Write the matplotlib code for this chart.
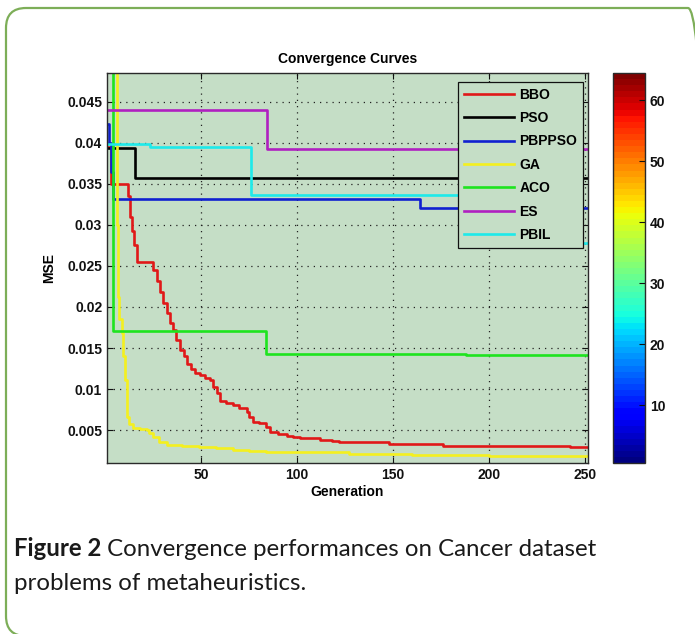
import matplotlib

matplotlib.use("Agg")

import matplotlib.pyplot as plt
import numpy as np
from matplotlib.cm import ScalarMappable
from matplotlib.colors import Normalize
from matplotlib.patches import FancyBboxPatch

# ---- data ----
bbo_gen = [1, 3, 11, 12, 13, 14, 15, 16.6, 23, 25, 27, 28.6, 30, 32, 33.8, 35.4, 37, 39,
           41, 42.7, 45, 47, 49.4, 52, 54.6, 56, 58.3, 59.9, 63, 66.6, 70, 73.9, 75, 77,
           80, 82, 84, 86, 90, 94.75, 98, 101.5, 106, 112, 118, 122, 128, 148, 176, 242, 251.5]
bbo_mse = [0.0395, 0.0350, 0.0350, 0.0335, 0.0310, 0.0293, 0.0275, 0.0255, 0.0255, 0.0245,
           0.0232, 0.0218, 0.0205, 0.0193, 0.0180, 0.0172, 0.0160, 0.0148, 0.0140, 0.0130,
           0.0125, 0.0120, 0.0117, 0.0113, 0.0111, 0.0103, 0.0095, 0.0085, 0.0083, 0.0081,
           0.0077, 0.0072, 0.0066, 0.0060, 0.0059, 0.0059, 0.0054, 0.0048, 0.0045, 0.0043,
           0.0042, 0.0041, 0.0040, 0.0038, 0.0037, 0.0036, 0.0035, 0.0033, 0.0031, 0.0029, 0.0029]

pso_gen = [1, 15.6, 251.5]
pso_mse = [0.0394, 0.0357, 0.0357]

pbppso_gen = [1, 2, 3, 4, 164, 251.5]
pbppso_mse = [0.0423, 0.0400, 0.0365, 0.0332, 0.0320, 0.0320]

ga_gen = [1, 5.5, 6, 6.7, 7.5, 8.8, 9.5, 10.4, 11.4, 12.5, 14.5, 18, 21.8, 23, 25, 28, 32,
          40, 49, 58, 66.6, 75, 84, 101, 127, 160, 200, 251.5]
ga_mse = [0.0600, 0.0600, 0.0300, 0.0212, 0.0185, 0.0168, 0.0140, 0.0111, 0.0066, 0.0058,
          0.0053, 0.0051, 0.0050, 0.0046, 0.0042, 0.0036, 0.0032, 0.0031, 0.0030, 0.0028,
          0.0026, 0.0025, 0.0024, 0.0023, 0.0021, 0.0020, 0.0018, 0.0018]

aco_gen = [1, 4, 84, 188, 251.5]
aco_mse = [0.0600, 0.0171, 0.0143, 0.0141, 0.0141]

es_gen = [1, 84.3, 251.5]
es_mse = [0.0440, 0.0393, 0.0393]

pbil_gen = [1, 23.4, 76, 220, 251.5]
pbil_mse = [0.0399, 0.0395, 0.0336, 0.0278, 0.0278]

series = [
    ("BBO", bbo_gen, bbo_mse, "#e01818"),
    ("PSO", pso_gen, pso_mse, "#000000"),
    ("PBPPSO", pbppso_gen, pbppso_mse, "#1020d0"),
    ("GA", ga_gen, ga_mse, "#f4f01e"),
    ("ACO", aco_gen, aco_mse, "#1ee41e"),
    ("ES", es_gen, es_mse, "#b020c0"),
    ("PBIL", pbil_gen, pbil_mse, "#1eeaea"),
]

x_ticks = [50, 100, 150, 200, 250]
y_ticks = [0.005, 0.01, 0.015, 0.02, 0.025, 0.03, 0.035, 0.04, 0.045]
y_tick_labels = ["0.005", "0.01", "0.015", "0.02", "0.025", "0.03", "0.035", "0.04", "0.045"]
cbar_ticks = [10, 20, 30, 40, 50, 60]

plt.rcParams["font.family"] = ["Liberation Sans", "DejaVu Sans"]

W, H = 695, 634
fig = plt.figure(figsize=(W / 100, H / 100), dpi=100)

# rounded green frame round the whole figure panel
frame = FancyBboxPatch(
    (0.06, -0.02), 7.02, 6.28,
    boxstyle="round,pad=0,rounding_size=0.2",
    transform=fig.dpi_scale_trans,
    facecolor="none", edgecolor="#7dae58", linewidth=1.6, zorder=-1,
)
fig.patches.append(frame)

ax = fig.add_axes([107 / W, 1 - 463 / H, 481 / W, 390 / H])
ax.set_facecolor("#c5dec6")

for name, gen, mse, color in series:
    ax.plot(gen, mse, drawstyle="steps-post", color=color, lw=1.9, label=name)

ax.set_xlim(1, 251.5)
ax.set_ylim(0.001, 0.0485)
ax.set_xticks(x_ticks)
ax.set_yticks(y_ticks)
ax.set_yticklabels(y_tick_labels)
ax.grid(True, linestyle=(0, (1, 4)), color="#222222", linewidth=0.9)
ax.tick_params(direction="in", top=True, right=True, length=4, width=0.8,
               labelsize=10, colors="#111111")
for lab in ax.get_xticklabels() + ax.get_yticklabels():
    lab.set_fontweight("bold")
for sp in ax.spines.values():
    sp.set_color("#2a2a2a")
    sp.set_linewidth(1.0)

ax.set_title("Convergence Curves", fontsize=10, fontweight="bold", pad=7)
ax.set_xlabel("Generation", fontsize=10, fontweight="bold", labelpad=2)
ax.set_ylabel("MSE", fontsize=10, fontweight="bold", labelpad=8)

leg = ax.legend(
    loc="upper right", bbox_to_anchor=(0.9896, 0.977), borderaxespad=0,
    fancybox=False, framealpha=1, facecolor="#c5dec6", edgecolor="#111111",
    handlelength=3.6, handletextpad=0.4, labelspacing=0.68,
    prop={"size": 10, "weight": "bold"},
)
leg.get_frame().set_linewidth(0.9)

# jet colour scale beside the axes
cax = fig.add_axes([613 / W, 1 - 463 / H, 32 / W, 390 / H])
sm = ScalarMappable(norm=Normalize(0.5, 64.5), cmap=plt.get_cmap("jet", 64))
cb = fig.colorbar(sm, cax=cax, ticks=cbar_ticks)
cb.outline.set_edgecolor("#2a2a2a")
cb.outline.set_linewidth(1.0)
cax.tick_params(direction="in", length=4, width=0.8, labelsize=10, colors="#111111")
for lab in cax.get_yticklabels():
    lab.set_fontweight("bold")

# caption below the chart
cap_font = ["Lato", "DejaVu Sans"]
cap_size = 17.3
y1 = 1 - 556 / H
y2 = 1 - 590 / H
bold_txt = fig.text(14 / W, y1, "Figure 2", fontsize=cap_size, fontweight="bold",
                    family=cap_font, va="baseline", ha="left", color="#1a1a1a")
renderer = fig.canvas.get_renderer()
bb = bold_txt.get_window_extent(renderer)
fig.text(bb.x1 / W, y1, " Convergence performances on Cancer dataset", fontsize=cap_size,
         family=cap_font, va="baseline", ha="left", color="#1a1a1a")
fig.text(14 / W, y2, "problems of metaheuristics.", fontsize=cap_size,
         family=cap_font, va="baseline", ha="left", color="#1a1a1a")

fig.savefig("out.png", dpi=100)
